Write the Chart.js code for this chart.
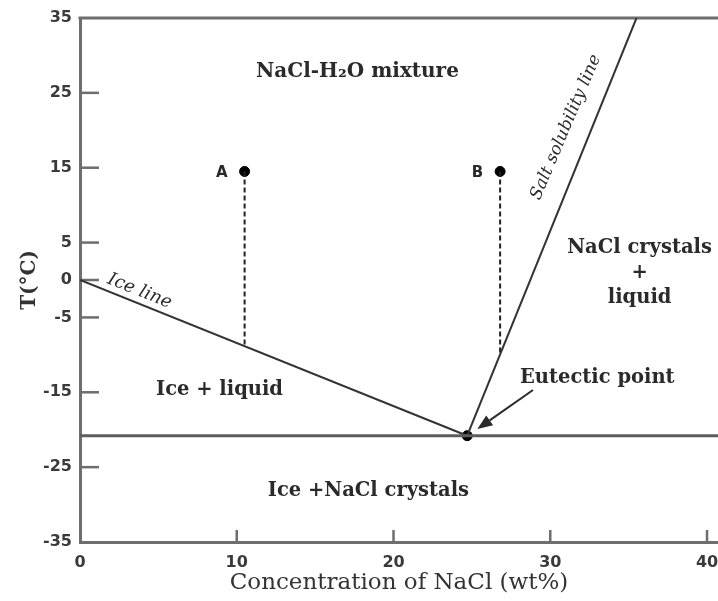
<!DOCTYPE html>
<html><head><meta charset="utf-8">
<script src="https://cdn.jsdelivr.net/npm/chart.js@4.4.1/dist/chart.umd.min.js"></script>
<style>html,body{margin:0;padding:0;background:#fff;overflow:hidden}</style>
</head><body>
<canvas id="c" width="718" height="601" style="display:block;width:718px;height:601px"></canvas>
<script>
// ---- data ----
const xTicks = [0, 10, 20, 30, 40];
const yTicks = [35, 25, 15, 5, 0, -5, -15, -25, -35];
const iceLineConc = [0, 24.7];
const iceLineTemp = [0, -20.8];
const saltLineConc = [24.7, 35.5];
const saltLineTemp = [-20.8, 35];
const eutecticLineConc = [0, 40.7];
const eutecticLineTemp = [-20.8, -20.8];
const dropAConc = [10.5, 10.5];
const dropATemp = [14.5, -8.8];
const dropBConc = [26.8, 26.8];
const dropBTemp = [14.5, -10.0];
const pointNames = ['A', 'B', 'Eutectic point'];
const pointConc = [10.5, 26.8, 24.7];
const pointTemp = [14.5, 14.5, -20.8];

const pts = (xs, ys) => xs.map((x, i) => ({x: x, y: ys[i]}));

// ---- annotation text (positions in data units) ----
const REGION_FONT = 'bold 19.5px "DejaVu Serif"';
const notes = [
  {text: 'NaCl-H\u2082O mixture', x: 17.7, y: 27.8, font: 'bold 20px "DejaVu Serif"'},
  {text: 'A', x: 9.05, y: 14.3, font: 'bold 15px "DejaVu Sans"'},
  {text: 'B', x: 25.35, y: 14.3, font: 'bold 15px "DejaVu Sans"'},
  {text: 'Salt solubility line', x: 31.0, y: 20.4, rot: -67, font: 'italic 17px "DejaVu Serif"'},
  {text: 'NaCl crystals', x: 35.7, y: 4.3, font: REGION_FONT},
  {text: '+', x: 35.7, y: 0.9, font: REGION_FONT},
  {text: 'liquid', x: 35.7, y: -2.4, font: REGION_FONT},
  {text: 'Ice line', x: 3.8, y: -1.5, rot: 22, font: 'italic 18px "DejaVu Serif"'},
  {text: 'Ice + liquid', x: 8.9, y: -14.7, font: REGION_FONT},
  {text: 'Eutectic point', x: 33.0, y: -13.1, font: REGION_FONT},
  {text: 'Ice +NaCl crystals', x: 18.4, y: -28.2, font: REGION_FONT}
];
const arrow = {from: [28.9, -14.7], to: [25.35, -19.9]};

const AXIS = '#6e6e6e';
const INK = '#2a2a2a';

const framePlugin = {
  id: 'frame',
  beforeDatasetsDraw(chart) {
    const {ctx, chartArea: a, scales: {x, y}} = chart;
    ctx.save();
    ctx.strokeStyle = AXIS;
    ctx.lineWidth = 3;
    ctx.beginPath();
    ctx.moveTo(a.left - 1.5, a.top);
    ctx.lineTo(a.right + 2, a.top);
    ctx.stroke();
    ctx.lineWidth = 2.5;
    y.ticks.forEach(t => {
      if (t.value === 35 || t.value === -35) return;
      const py = y.getPixelForValue(t.value);
      ctx.beginPath(); ctx.moveTo(a.left, py); ctx.lineTo(a.left + 19, py); ctx.stroke();
    });
    x.ticks.forEach(t => {
      if (t.value === 0) return;
      const px = x.getPixelForValue(t.value);
      ctx.beginPath(); ctx.moveTo(px, a.bottom); ctx.lineTo(px, a.bottom - 12); ctx.stroke();
    });
    ctx.restore();
  },
  afterDatasetsDraw(chart) {
    const {ctx, scales: {x, y}} = chart;
    ctx.save();
    ctx.fillStyle = INK;
    ctx.textAlign = 'center';
    ctx.textBaseline = 'middle';
    notes.forEach(n => {
      const px = x.getPixelForValue(n.x), py = y.getPixelForValue(n.y);
      ctx.save();
      ctx.font = n.font;
      ctx.translate(px, py);
      if (n.rot) ctx.rotate(n.rot * Math.PI / 180);
      ctx.fillText(n.text, 0, 0);
      ctx.restore();
    });
    // arrow to eutectic point
    const x1 = x.getPixelForValue(arrow.from[0]), y1 = y.getPixelForValue(arrow.from[1]);
    const x2 = x.getPixelForValue(arrow.to[0]), y2 = y.getPixelForValue(arrow.to[1]);
    const ang = Math.atan2(y2 - y1, x2 - x1);
    const L = 15, W = 6;
    ctx.strokeStyle = INK;
    ctx.lineWidth = 2;
    ctx.beginPath();
    ctx.moveTo(x1, y1);
    ctx.lineTo(x2 - L * Math.cos(ang), y2 - L * Math.sin(ang));
    ctx.stroke();
    ctx.beginPath();
    ctx.moveTo(x2, y2);
    ctx.lineTo(x2 - L * Math.cos(ang) + W * Math.sin(ang), y2 - L * Math.sin(ang) - W * Math.cos(ang));
    ctx.lineTo(x2 - L * Math.cos(ang) - W * Math.sin(ang), y2 - L * Math.sin(ang) + W * Math.cos(ang));
    ctx.closePath();
    ctx.fill();
    ctx.restore();
  }
};

const lineDs = (label, data, color, width, dash) => ({
  label, data, showLine: true, borderColor: color, borderWidth: width,
  borderDash: dash || [], pointRadius: 0, pointHoverRadius: 0, fill: false, tension: 0
});

new Chart(document.getElementById('c'), {
  type: 'scatter',
  data: {
    datasets: [
      lineDs('Eutectic line', pts(eutecticLineConc, eutecticLineTemp), '#5e5e5e', 3),
      lineDs('Ice line', pts(iceLineConc, iceLineTemp), '#333333', 2),
      lineDs('Salt solubility line', pts(saltLineConc, saltLineTemp), '#333333', 2),
      lineDs('A cooling', pts(dropAConc, dropATemp), '#222222', 2, [5, 3]),
      lineDs('B cooling', pts(dropBConc, dropBTemp), '#222222', 2, [5, 3]),
      {
        label: 'Points', data: pts(pointConc, pointTemp).map((p, i) => ({...p, name: pointNames[i]})),
        pointRadius: 5, pointBackgroundColor: '#000', pointBorderColor: '#000', showLine: false
      }
    ]
  },
  options: {
    responsive: false,
    devicePixelRatio: 1,
    animation: false,
    events: [],
    layout: {autoPadding: false, padding: {left: 0, right: 0, top: 18, bottom: 0}},
    plugins: {legend: {display: false}, tooltip: {enabled: false}},
    scales: {
      x: {
        type: 'linear', min: 0, max: 40.7,
        afterBuildTicks: s => { s.ticks = xTicks.map(v => ({value: v})); },
        afterFit: s => { s.height = 59; s.paddingLeft = 0; s.paddingRight = 0; },
        grid: {display: false, drawTicks: false},
        border: {display: true, color: AXIS, width: 3},
        ticks: {color: '#3a3a3a', font: {family: 'DejaVu Sans', size: 16, weight: 'bold'}, padding: 11, maxRotation: 0, autoSkip: false},
        title: {display: true, text: 'Concentration of NaCl (wt%)', color: '#333', font: {family: 'DejaVu Serif', size: 23}, padding: {top: 0, bottom: 4}}
      },
      y: {
        type: 'linear', min: -35, max: 35,
        afterBuildTicks: s => { s.ticks = yTicks.map(v => ({value: v})); },
        afterFit: s => { s.width = 80; },
        grid: {display: false, drawTicks: false},
        border: {display: true, color: AXIS, width: 3},
        ticks: {color: '#3a3a3a', font: {family: 'DejaVu Sans', size: 16, weight: 'bold'}, padding: 8, autoSkip: false},
        title: {display: true, text: 'T(\u00B0C)', color: '#333', font: {family: 'DejaVu Serif', size: 20, weight: 'bold'}, padding: {top: 18, bottom: 0}}
      }
    }
  },
  plugins: [framePlugin]
});
</script>
</body></html>
